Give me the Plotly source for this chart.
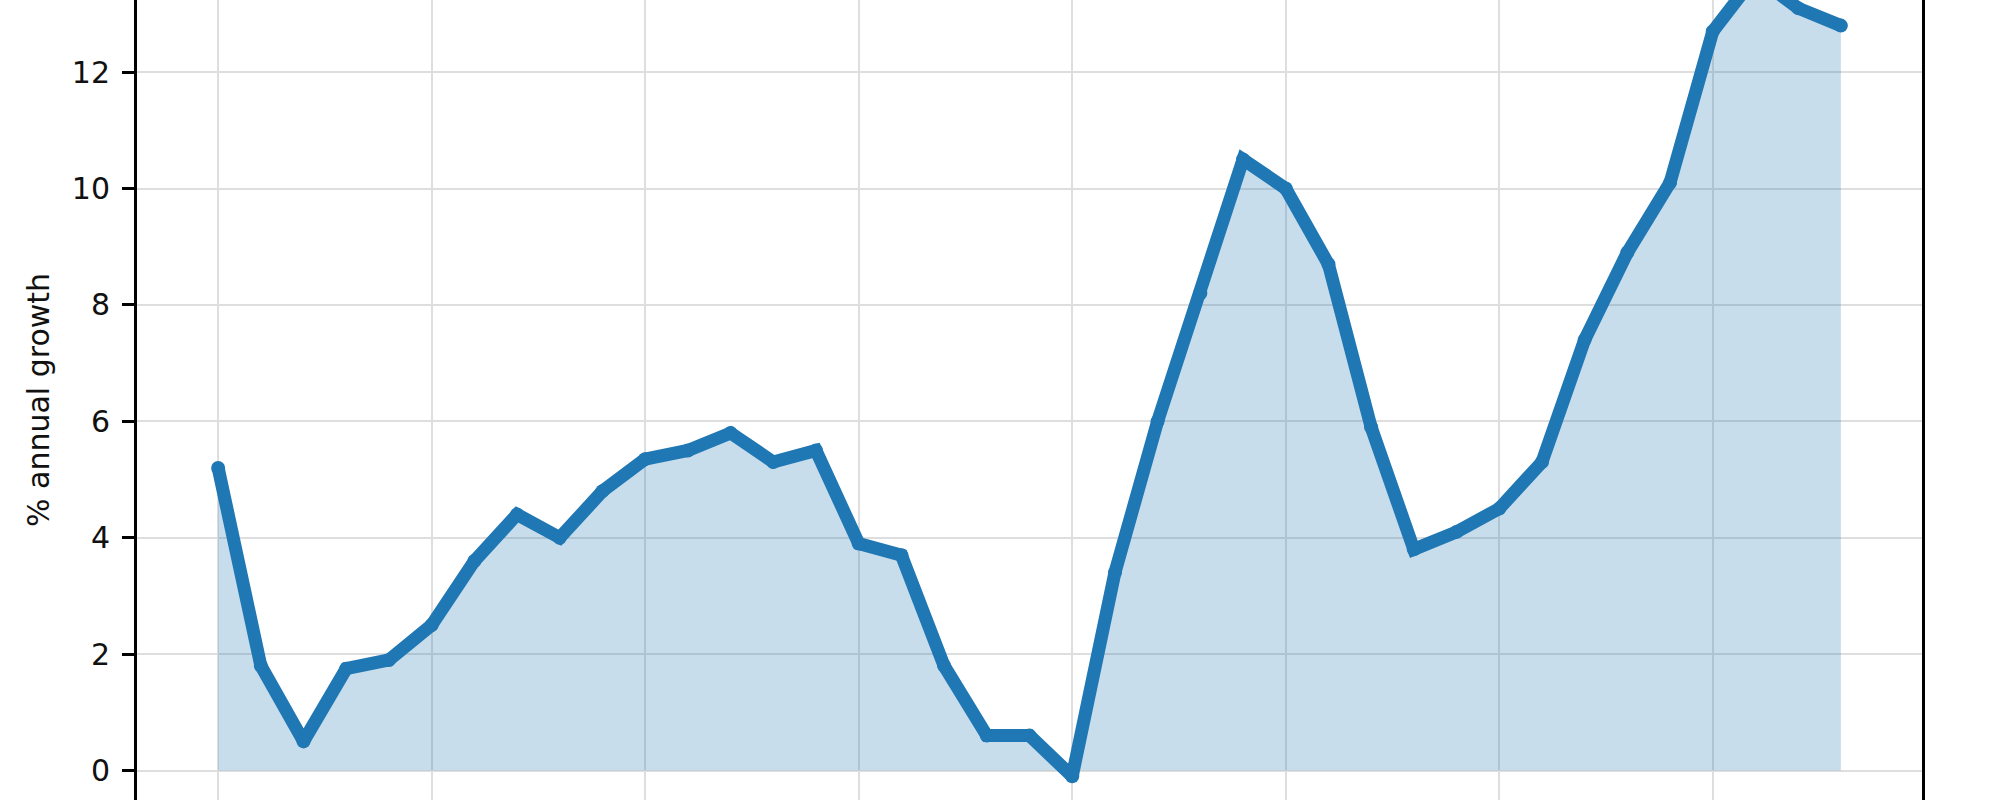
import plotly.graph_objects as go

# years on the x axis (tick labels are outside the visible crop)
years = list(range(1980, 2019))

# % annual growth
growth = [5.2, 1.8, 0.5, 1.75, 1.9, 2.5, 3.6, 4.4, 4.0, 4.8,
          5.35, 5.5, 5.8, 5.3, 5.5, 3.9, 3.7, 1.8, 0.6, 0.6,
          -0.1, 3.4, 6.0, 8.2, 10.5, 10.0, 8.7, 5.9, 3.8, 4.1,
          4.5, 5.3, 7.4, 8.9, 10.1, 12.7, 13.65, 13.1, 12.8]

y_ticks = [0, 2, 4, 6, 8, 10, 12]

line_color = "#1f77b4"
fill_color = "rgba(31,119,180,0.25)"
font = "DejaVu Sans"

fig = go.Figure(go.Scatter(
    x=years, y=growth, mode="lines+markers",
    line=dict(color=line_color, width=13),
    marker=dict(color=line_color, size=14),
    fill="tozeroy", fillcolor=fill_color,
    showlegend=False, hoverinfo="skip"))

pad = (years[-1] - years[0]) * 0.05

fig.update_xaxes(range=[years[0] - pad, years[-1] + pad],
                 tickvals=years[::5], showticklabels=False,
                 showgrid=True, gridcolor="#dedede", gridwidth=2,
                 zeroline=False, showline=False, ticks="")
fig.update_yaxes(range=[-0.507, 13.24], tickvals=y_ticks,
                 showgrid=True, gridcolor="#dedede", gridwidth=2,
                 zeroline=False, showline=True, linecolor="black", linewidth=3,
                 mirror=True, ticks="outside", ticklen=12, tickwidth=3,
                 tickcolor="black", ticklabelstandoff=6,
                 tickfont=dict(family=font, size=30, color="#111"),
                 title=dict(text="% annual growth", standoff=14,
                            font=dict(family=font, size=30, color="#111")))

fig.update_layout(width=2000, height=800,
                  margin=dict(l=137, r=78, t=0, b=0),
                  plot_bgcolor="white", paper_bgcolor="white")

# the page's default body margin would shift the chart by 8px
fig.write_html("out.html", config={"displayModeBar": False},
               post_script="document.body.style.margin='0';")
